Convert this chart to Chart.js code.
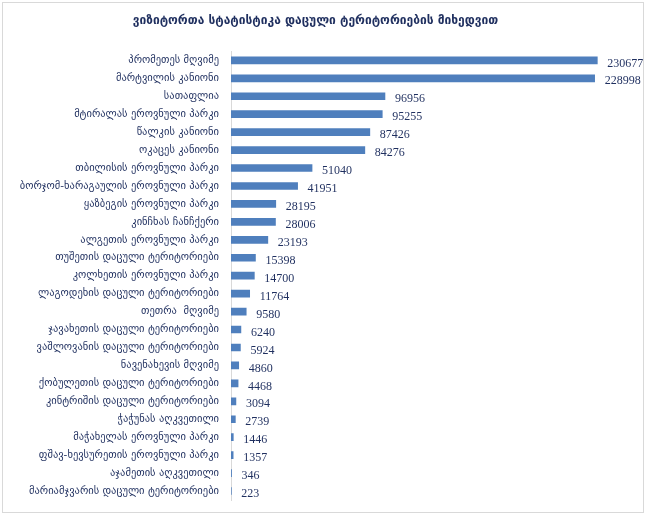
<!DOCTYPE html>
<html>
<head>
<meta charset="utf-8">
<script src="https://cdn.jsdelivr.net/npm/chart.js@4"></script>
<style>
    html, body { margin: 0; padding: 0; background: #fff; }
    #frame {
        position: absolute; left: 2px; top: 2px;
        width: 640px; height: 509px;
        border: 1px solid #d9d9d9;
    }
</style>
</head>
<body>
<div id="frame"><canvas id="visitorsChart" width="640" height="509"></canvas></div>
<script>
var titleText = "ვიზიტორთა სტატისტიკა დაცული ტერიტორიების მიხედვით";

var areas = [
    "პრომეთეს მღვიმე",
    "მარტვილის კანიონი",
    "სათაფლია",
    "მტირალას ეროვნული პარკი",
    "წალკის კანიონი",
    "ოკაცეს კანიონი",
    "თბილისის ეროვნული პარკი",
    "ბორჯომ-ხარაგაულის ეროვნული პარკი",
    "ყაზბეგის ეროვნული პარკი",
    "კინჩხას ჩანჩქერი",
    "ალგეთის ეროვნული პარკი",
    "თუშეთის დაცული ტერიტორიები",
    "კოლხეთის ეროვნული პარკი",
    "ლაგოდეხის დაცული ტერიტორიები",
    "თეთრა  მღვიმე",
    "ჯავახეთის დაცული ტერიტორიები",
    "ვაშლოვანის დაცული ტერიტორიები",
    "ნავენახევის მღვიმე",
    "ქობულეთის დაცული ტერიტორიები",
    "კინტრიშის დაცული ტერიტორიები",
    "ჭაჭუნას აღკვეთილი",
    "მაჭახელას ეროვნული პარკი",
    "ფშავ-ხევსურეთის ეროვნული პარკი",
    "აჯამეთის აღკვეთილი",
    "მარიამჯვარის დაცული ტერიტორიები"
];

var visitors = [230677, 228998, 96956, 95255, 87426, 84276, 51040, 41951, 28195, 28006,
    23193, 15398, 14700, 11764, 9580, 6240, 5924, 4860, 4468, 3094, 2739, 1446, 1357, 346, 223];

var axisMax = 250000;

var textColor = "#1f2f5f";
var barColor = "#4f7fbd";

// writes the number to the right of each bar
var valueLabels = {
    id: "valueLabels",
    afterDatasetsDraw: function (chart) {
        var ctx = chart.ctx;
        var meta = chart.getDatasetMeta(0);
        ctx.save();
        ctx.font = "12px 'Liberation Serif'";
        ctx.fillStyle = textColor;
        ctx.textAlign = "left";
        ctx.textBaseline = "middle";
        meta.data.forEach(function (bar, i) {
            ctx.fillText(String(visitors[i]), bar.x + 10, bar.y + 3);
        });
        ctx.restore();
    }
};

var ctx = document.getElementById("visitorsChart").getContext("2d");
var chart = new Chart(ctx, {
    type: "bar",
    data: {
        labels: areas,
        datasets: [
            {
                data: visitors,
                backgroundColor: barColor,
                barThickness: 7
            }
        ]
    },
    options: {
        indexAxis: "y",
        responsive: false,
        animation: false,
        layout: { padding: { left: 0, right: 15, top: 0, bottom: 12 } },
        plugins: {
            legend: { display: false },
            tooltip: { enabled: false },
            title: {
                display: true,
                text: titleText,
                color: textColor,
                font: { family: "'DejaVu Sans'", size: 12, weight: "bold", lineHeight: 1.2 },
                padding: { top: 11, bottom: 23 }
            }
        },
        scales: {
            x: {
                display: false,
                min: 0,
                max: axisMax
            },
            y: {
                grid: { display: false, drawTicks: false },
                border: { display: true, color: "#d9d9d9" },
                ticks: {
                    color: textColor,
                    padding: 12,
                    autoSkip: false,
                    font: { family: "'DejaVu Sans'", size: 10.5 }
                },
                afterFit: function (scale) {
                    scale.width = 228;
                    scale.paddingTop = 0;
                    scale.paddingBottom = 0;
                }
            }
        }
    },
    plugins: [valueLabels]
});
</script>
</body>
</html>
